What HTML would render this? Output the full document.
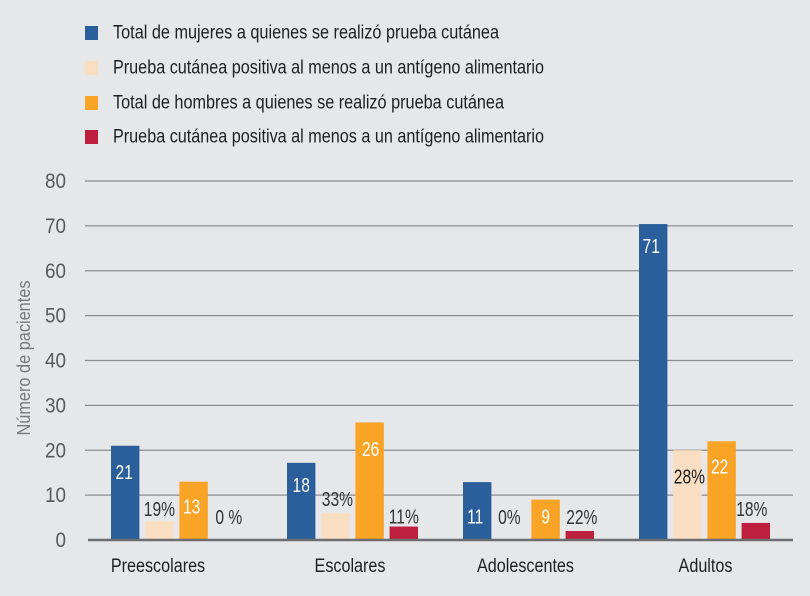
<!DOCTYPE html>
<html lang="es">
<head>
<meta charset="utf-8">
<title>Prueba cutánea por grupo de edad</title>
<style>
html,body{margin:0;padding:0;background:#e6e7e9;}
svg{display:block;font-family:"Liberation Sans",sans-serif;}
</style>
</head>
<body>
<svg id="chart" width="810" height="596" viewBox="0 0 810 596" xmlns="http://www.w3.org/2000/svg">
  <rect width="810" height="596" fill="#e6e7e9"/>
  <g font-size="19" fill="#1f1f1f">
    <g>
      <rect x="85" y="26" width="13" height="14" fill="#2a5f9b"/>
      <text x="113" y="38.5" textLength="386" lengthAdjust="spacingAndGlyphs">Total de mujeres a quienes se realizó prueba cutánea</text>
    </g>
    <g>
      <rect x="85" y="61" width="13" height="14" fill="#f9dec2"/>
      <text x="113" y="73.5" textLength="431" lengthAdjust="spacingAndGlyphs">Prueba cutánea positiva al menos a un antígeno alimentario</text>
    </g>
    <g>
      <rect x="85" y="96" width="13" height="14" fill="#f9a327"/>
      <text x="113" y="108.5" textLength="391" lengthAdjust="spacingAndGlyphs">Total de hombres a quienes se realizó prueba cutánea</text>
    </g>
    <g>
      <rect x="85" y="130" width="13" height="14" fill="#bf1f3f"/>
      <text x="113" y="142.5" textLength="431" lengthAdjust="spacingAndGlyphs">Prueba cutánea positiva al menos a un antígeno alimentario</text>
    </g>
  </g>
  <text transform="translate(30,358) rotate(-90)" text-anchor="middle" font-size="18" fill="#77787b" textLength="155" lengthAdjust="spacingAndGlyphs">Número de pacientes</text>
  <g id="grid"></g>
  <g id="bars"></g>
  <line x1="88" y1="540" x2="793" y2="540" stroke="#6d6e71" stroke-width="2.5"/>
  <g id="labels"></g>
  <g id="cats"></g>
</svg>
<script>
const categories = ["Preescolares", "Escolares", "Adolescentes", "Adultos"];
const womenTotal = [21, 17.2, 12.9, 70.4];
const womenPositive = [4.2, 6, 0, 20];
const menTotal = [13, 26.2, 9, 22];
const menPositive = [0, 3, 2, 3.8];
const womenTotalLabels = ["21", "18", "11", "71"];
const womenPositiveLabels = ["19%", "33%", "0%", "28%"];
const menTotalLabels = ["13", "26", "9", "22"];
const menPositiveLabels = ["0 %", "11%", "22%", "18%"];
const yTicks = [0, 10, 20, 30, 40, 50, 60, 70, 80];

const NS = "http://www.w3.org/2000/svg";
const y = v => 540 - v * 4.4875;
const groupX = i => 111 + i * 176;
const barX = (i, s) => groupX(i) + s * 34.2;
const BAR_W = 28.4;

function make(tag, attrs, parent, text) {
  const el = document.createElementNS(NS, tag);
  for (const k in attrs) el.setAttribute(k, attrs[k]);
  if (text !== undefined) el.textContent = text;
  parent.appendChild(el);
  return el;
}
function condense(el, factor) {
  el.setAttribute("textLength", (el.getComputedTextLength() * factor).toFixed(1));
  el.setAttribute("lengthAdjust", "spacingAndGlyphs");
}

const gridG = document.getElementById("grid");
yTicks.forEach(t => {
  if (t > 0) {
    const ln = make("line", {x1: 85, x2: 793, y1: y(t), y2: y(t), stroke: "#8a8c8f", "stroke-width": 1.2}, gridG);
    
    
  }
  const tx = make("text", {x: 66, y: y(t) + 7, "text-anchor": "end", "font-size": 21, fill: "#58595b"}, gridG, String(t));
  
  
  condense(tx, 0.9);
});

const series = [
  {values: womenTotal, labels: womenTotalLabels, color: "#2a5f9b", text: "#ffffff", key: "women-total",
   dy: [26, 22, 34.6, 22], dx: [-1, 0, -2, -2]},
  {values: womenPositive, labels: womenPositiveLabels, color: "#f9dec2", text: "#333333", key: "women-positive",
   dy: [-12, -14, -23, 26], dx: [0, 2, -2, 2]},
  {values: menTotal, labels: menTotalLabels, color: "#f9a327", text: "#ffffff", key: "men-total",
   dy: [25, 26.6, 17, 25.4], dx: [-2, 1, 0, -2]},
  {values: menPositive, labels: menPositiveLabels, color: "#bf1f3f", text: "#333333", key: "men-positive",
   dy: [-23, -10, -14, -14], dx: [1, 0, 2, -4]}
];
const barsG = document.getElementById("bars");
const labelsG = document.getElementById("labels");
series.forEach((s, si) => {
  s.values.forEach((v, i) => {
    if (v > 0) {
      const r = make("rect", {x: barX(i, si), y: y(v), width: BAR_W, height: 540 - y(v), fill: s.color}, barsG);
      
      
    }
    const cx = barX(i, si) + BAR_W / 2 + s.dx[i];
    const t = make("text", {x: cx, y: y(v) + s.dy[i] + 7, "text-anchor": "middle", "font-size": 20.5,
      fill: (s.labels[i] === "28%") ? "#1a1a1a" : s.text}, labelsG, s.labels[i]);
    
    
    condense(t, 0.76);
  });
});

const catOffsets = [47, 63, 62.5, 66.5];
const catG = document.getElementById("cats");
categories.forEach((c, i) => {
  const t = make("text", {x: groupX(i) + catOffsets[i], y: 572, "text-anchor": "middle", "font-size": 19, fill: "#1f1f1f"}, catG, c);
  
  
  condense(t, 0.85);
});
</script>
</body>
</html>
